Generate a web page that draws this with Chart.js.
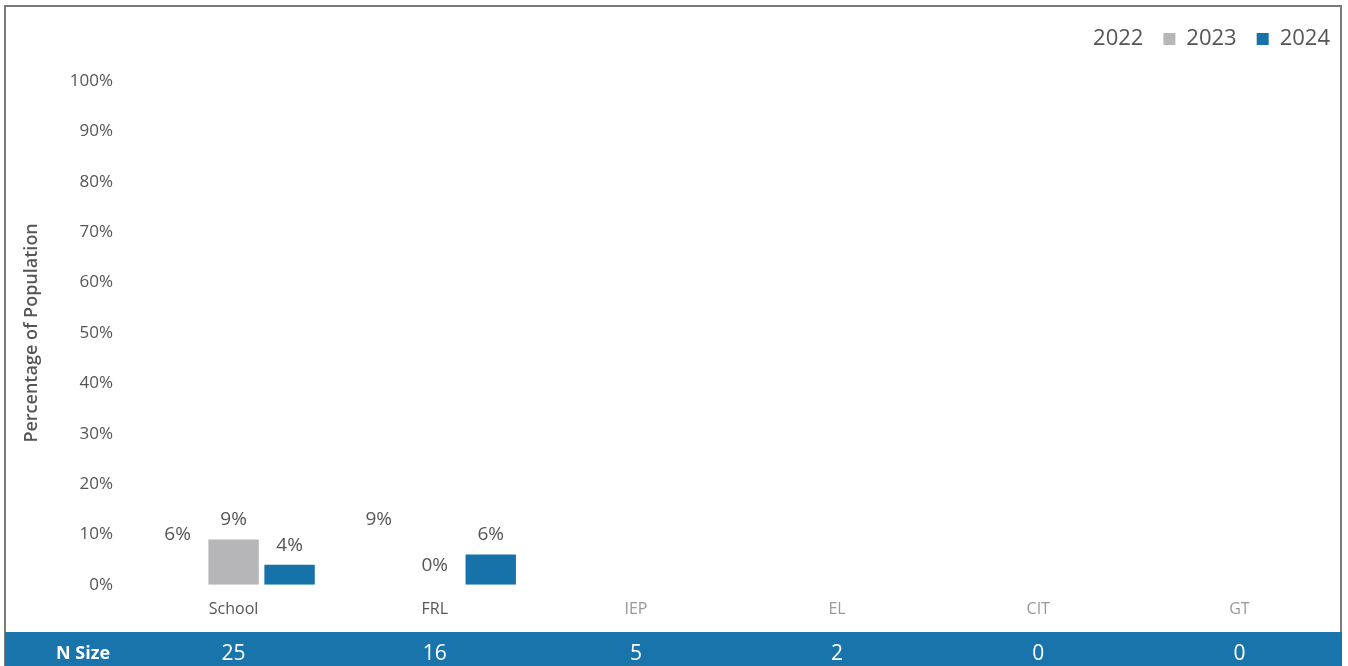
<!DOCTYPE html>
<html>
<head>
<meta charset="utf-8">
<script src="https://cdn.jsdelivr.net/npm/chart.js@4.4.1/dist/chart.umd.min.js"></script>
<style>
  html, body { margin: 0; padding: 0; background: #fff; }
  #wrap { position: relative; width: 1348px; height: 666px; }
  #frame {
    position: absolute; left: 4px; top: 5px; width: 1338px; height: 680px;
    border: 2px solid #7a7a7a; border-bottom: none; box-sizing: border-box;
  }
  canvas { position: absolute; left: 0; top: 0; }
</style>
</head>
<body>
<div id="wrap">
  <div id="frame"></div>
  <canvas id="myChart" width="1348" height="666"></canvas>
</div>
<script>
const categories = ["School", "FRL", "IEP", "EL", "CIT", "GT"];
const years = ["2022", "2023", "2024"];
const values2022 = [6, 9, null, null, null, null];
const values2023 = [9, 0, null, null, null, null];
const values2024 = [4, 6, null, null, null, null];
const nSize = [25, 16, 5, 2, 0, 0];
const yTicks = [0, 10, 20, 30, 40, 50, 60, 70, 80, 90, 100];

const barColors = ["#ffffff", "#b6b6b9", "#1672a9"];
const bandColor = "#1a74ac";
const textColor = "#555555";
const fontFamily = "'Open Sans', 'DejaVu Sans', sans-serif";

// categories that have any bar get the darker label
const hasData = categories.map((c, i) =>
  [values2022, values2023, values2024].some(s => s[i] !== null));

// extra room under the legend, and push it a bit further right
const legendGap = {
  id: "legendGap",
  beforeInit(chart) {
    const fit = chart.legend.fit;
    chart.legend.fit = function () {
      fit.bind(chart.legend)();
      this.height += 21;
    };
  },
  afterLayout(chart) {
    chart.legend.left += 10;
    chart.legend.right += 10;
  }
};

// value labels above each bar
const barLabels = {
  id: "barLabels",
  afterDatasetsDraw(chart) {
    const ctx = chart.ctx;
    ctx.save();
    ctx.font = "19px " + fontFamily;
    ctx.fillStyle = textColor;
    ctx.textAlign = "center";
    ctx.textBaseline = "bottom";
    chart.data.datasets.forEach((ds, di) => {
      chart.getDatasetMeta(di).data.forEach((bar, i) => {
        const v = ds.data[i];
        if (v === null || v === undefined) return;
        ctx.fillText(v + "%", bar.x, bar.y - 10);
      });
    });
    ctx.restore();
  }
};

// blue "N Size" strip along the bottom
const nSizeBand = {
  id: "nSizeBand",
  afterDraw(chart) {
    const ctx = chart.ctx;
    const x = chart.scales.x;
    const top = 632, bottom = chart.height;
    const mid = (top + bottom) / 2 + 5;
    ctx.save();
    ctx.fillStyle = bandColor;
    ctx.fillRect(5, top, 1337, bottom - top);
    ctx.fillStyle = "#ffffff";
    ctx.textBaseline = "middle";
    ctx.textAlign = "center";
    ctx.font = "bold 18px " + fontFamily;
    ctx.fillText("N Size", 83, mid);
    ctx.font = "21px " + fontFamily;
    nSize.forEach((n, i) => {
      ctx.fillText(String(n), x.getPixelForValue(i), mid);
    });
    ctx.restore();
  }
};

new Chart("myChart", {
  type: "bar",
  data: {
    labels: categories,
    datasets: [
      { label: years[0], data: values2022, backgroundColor: barColors[0] },
      { label: years[1], data: values2023, backgroundColor: barColors[1] },
      { label: years[2], data: values2024, backgroundColor: barColors[2] }
    ]
  },
  options: {
    responsive: false,
    animation: false,
    datasets: { bar: { barPercentage: 0.9, categoryPercentage: 0.835 } },
    layout: { padding: { left: 10, right: 8, top: 8, bottom: 32 } },
    plugins: {
      tooltip: { enabled: false },
      legend: {
        position: "top",
        align: "end",
        labels: {
          boxWidth: 12,
          boxHeight: 12,
          padding: 20,
          color: textColor,
          font: { family: fontFamily, size: 22 }
        }
      }
    },
    scales: {
      x: {
        grid: { display: false, drawTicks: false },
        border: { display: false },
        ticks: {
          padding: 15,
          color: ctx => hasData[ctx.index] ? textColor : "#999999",
          font: { family: fontFamily, size: 16 }
        }
      },
      y: {
        min: 0,
        max: 100,
        afterBuildTicks(scale) {
          scale.ticks = yTicks.map(v => ({ value: v }));
        },
        afterFit(scale) { scale.width = 123; },
        grid: { display: false, drawTicks: false },
        border: { display: false },
        ticks: {
          padding: 20,
          color: textColor,
          font: { family: fontFamily, size: 17 },
          callback: v => v + "%"
        },
        title: {
          display: true,
          text: "Percentage of Population",
          color: textColor,
          padding: { top: 11, bottom: 0 },
          font: { family: fontFamily, size: 18, weight: "600" }
        }
      }
    }
  },
  plugins: [legendGap, barLabels, nSizeBand]
});
</script>
</body>
</html>
